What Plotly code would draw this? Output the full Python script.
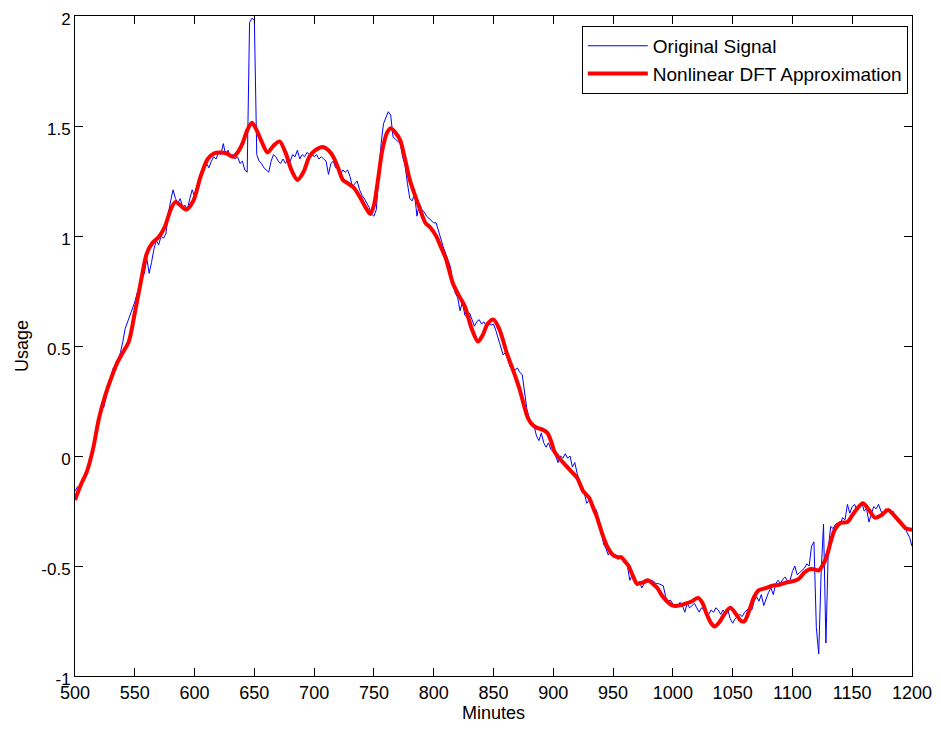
import plotly.graph_objects as go

# Original signal, sampled every 2 minutes from 500 to 1200
blue_minutes = list(range(500, 1201, 2))
blue_usage = [
    -0.16, -0.14, -0.15, -0.11, -0.09,
    -0.07, -0.02, 0.01, 0.06, 0.10,
    0.17, 0.23, 0.22, 0.27, 0.31,
    0.36, 0.40, 0.39, 0.44, 0.47,
    0.52, 0.58, 0.61, 0.64, 0.66,
    0.70, 0.74, 0.76, 0.81, 0.83,
    0.90, 0.83, 0.88, 0.94, 0.98,
    0.96, 1.00, 0.99, 1.01, 1.10,
    1.16, 1.21, 1.17, 1.15, 1.17,
    1.13, 1.14, 1.12, 1.17, 1.21,
    1.18, 1.21, 1.25, 1.27, 1.31,
    1.33, 1.31, 1.34, 1.36, 1.35,
    1.38, 1.37, 1.42, 1.37, 1.39,
    1.36, 1.37, 1.35, 1.36, 1.33,
    1.34, 1.30, 1.29, 1.97, 1.99,
    1.98, 1.37, 1.34, 1.33, 1.31,
    1.30, 1.29, 1.34, 1.37, 1.36,
    1.34, 1.33, 1.35, 1.33, 1.35,
    1.34, 1.37, 1.36, 1.39, 1.35,
    1.37, 1.36, 1.38, 1.37, 1.375,
    1.36, 1.37, 1.35, 1.36, 1.35,
    1.34, 1.28, 1.33, 1.34, 1.31,
    1.31, 1.28, 1.30, 1.29, 1.30,
    1.27, 1.225, 1.24, 1.25, 1.21,
    1.185, 1.17, 1.15, 1.13, 1.10,
    1.09, 1.12, 1.26, 1.42, 1.51,
    1.54, 1.565, 1.55, 1.45, 1.44,
    1.43, 1.42, 1.36, 1.32, 1.24,
    1.17, 1.16, 1.19, 1.09, 1.15,
    1.12, 1.11, 1.09, 1.08, 1.07,
    1.06, 1.06, 1.02, 0.99, 0.95,
    0.92, 0.89, 0.86, 0.79, 0.74,
    0.72, 0.66, 0.70, 0.64, 0.63,
    0.65, 0.62, 0.59, 0.61, 0.62,
    0.60, 0.61, 0.59, 0.60, 0.595,
    0.60, 0.57, 0.53, 0.50, 0.46,
    0.47, 0.44, 0.405, 0.40, 0.39,
    0.40, 0.38, 0.37, 0.30, 0.21,
    0.17, 0.14, 0.135, 0.09, 0.07,
    0.105, 0.06, 0.04, 0.06, 0.03,
    0.02, 0.00, -0.03, 0.00, -0.01,
    0.01, -0.01, 0.00, -0.05, -0.03,
    -0.08, -0.12, -0.15, -0.17, -0.215,
    -0.20, -0.22, -0.24, -0.245, -0.29,
    -0.33, -0.40, -0.42, -0.45, -0.43,
    -0.46, -0.45, -0.47, -0.46, -0.47,
    -0.49, -0.50, -0.565, -0.54, -0.56,
    -0.59, -0.57, -0.60, -0.58, -0.575,
    -0.57, -0.565, -0.57, -0.58, -0.58,
    -0.585, -0.59, -0.64, -0.66, -0.655,
    -0.67, -0.69, -0.685, -0.665, -0.68,
    -0.71, -0.67, -0.69, -0.68, -0.67,
    -0.69, -0.71, -0.69, -0.70, -0.725,
    -0.72, -0.70, -0.71, -0.69, -0.70,
    -0.72, -0.70, -0.715, -0.70, -0.74,
    -0.76, -0.74, -0.73, -0.72, -0.73,
    -0.71, -0.70, -0.69, -0.70, -0.66,
    -0.64, -0.66, -0.63, -0.68, -0.65,
    -0.62, -0.60, -0.63, -0.58, -0.565,
    -0.58, -0.56, -0.55, -0.57, -0.565,
    -0.525, -0.50, -0.54, -0.53, -0.52,
    -0.51, -0.49, -0.50, -0.41, -0.39,
    -0.78, -0.90, -0.53, -0.31, -0.85,
    -0.42, -0.32, -0.33, -0.31, -0.305,
    -0.31, -0.28, -0.29, -0.22, -0.26,
    -0.23, -0.22, -0.25, -0.23, -0.21,
    -0.25, -0.24, -0.30, -0.26, -0.23,
    -0.24, -0.22, -0.25, -0.27, -0.24,
    -0.25, -0.26, -0.25, -0.27, -0.30,
    -0.29, -0.305, -0.32, -0.35, -0.37,
    -0.41,
]

# Nonlinear DFT approximation (smooth curve)
red_minutes = [
    500, 505, 510, 515, 520, 525, 530, 535, 540, 545,
    550, 555, 560, 565, 570, 575, 580, 584, 588, 593,
    599, 605, 611, 616, 621, 627, 632, 636, 640, 644,
    648, 652, 656, 661, 666, 671, 676, 681, 686, 691,
    696, 701, 707, 712, 716, 720, 724, 728, 733, 738,
    743, 747, 750, 753, 757, 761, 764, 768, 772, 776,
    780, 784, 788, 793, 797, 802, 806, 810, 816, 821,
    826, 832, 837, 841, 845, 850, 855, 861, 865, 869,
    872, 876, 879, 883, 887, 891, 895, 898, 901, 905,
    910, 915, 920, 925, 930, 933, 936, 939, 942, 945,
    950, 954, 957, 960, 963, 967, 970, 975, 979, 983,
    987, 991, 995, 1000, 1005, 1011, 1016, 1021, 1025, 1028,
    1032, 1035, 1039, 1043, 1048, 1053, 1057, 1060, 1064, 1068,
    1072, 1078, 1083, 1089, 1095, 1100, 1105, 1110, 1114, 1118,
    1122, 1126, 1129, 1132, 1135, 1140, 1146, 1150, 1154, 1159,
    1164, 1169, 1174, 1180, 1185, 1190, 1195, 1200,
]
red_usage = [
    -0.20, -0.13, -0.07, 0.03, 0.17, 0.27, 0.35, 0.42, 0.47, 0.52,
    0.65, 0.79, 0.92, 0.97, 0.995, 1.04, 1.12, 1.155, 1.14, 1.12,
    1.16, 1.27, 1.35, 1.375, 1.38, 1.375, 1.36, 1.38, 1.42, 1.48,
    1.515, 1.48, 1.43, 1.38, 1.41, 1.43, 1.38, 1.30, 1.255, 1.29,
    1.36, 1.39, 1.405, 1.39, 1.36, 1.31, 1.255, 1.24, 1.22, 1.18,
    1.13, 1.10, 1.14, 1.24, 1.39, 1.47, 1.49, 1.47, 1.435, 1.35,
    1.255, 1.19, 1.13, 1.06, 1.04, 1.0, 0.95, 0.90, 0.785, 0.73,
    0.68, 0.575, 0.52, 0.55, 0.60, 0.62, 0.575, 0.47, 0.41, 0.35,
    0.30, 0.22, 0.17, 0.14, 0.127, 0.12, 0.105, 0.07, 0.02, -0.01,
    -0.04, -0.07, -0.10, -0.16, -0.19, -0.23, -0.27, -0.32, -0.37, -0.41,
    -0.45, -0.46, -0.46, -0.48, -0.50, -0.55, -0.58, -0.575, -0.565, -0.58,
    -0.60, -0.635, -0.66, -0.68, -0.68, -0.67, -0.66, -0.645, -0.67, -0.715,
    -0.76, -0.775, -0.755, -0.72, -0.69, -0.72, -0.75, -0.75, -0.70, -0.64,
    -0.61, -0.60, -0.59, -0.585, -0.575, -0.57, -0.56, -0.53, -0.515, -0.515,
    -0.52, -0.49, -0.45, -0.39, -0.34, -0.305, -0.30, -0.27, -0.24, -0.215,
    -0.245, -0.28, -0.27, -0.245, -0.27, -0.30, -0.33, -0.335,
]

x_ticks = [500, 550, 600, 650, 700, 750, 800, 850, 900, 950,
           1000, 1050, 1100, 1150, 1200]
y_ticks = [-1, -0.5, 0, 0.5, 1, 1.5, 2]
y_ticktext = ['-1', '-0.5', '0', '0.5', '1', '1.5', '2']

font = dict(family='Liberation Sans, Arial, sans-serif', size=18, color='black')

fig = go.Figure()

fig.add_trace(go.Scatter(
    x=blue_minutes, y=blue_usage,
    mode='lines',
    name='Original Signal',
    line=dict(color='#0000ff', width=1),
))

fig.add_trace(go.Scatter(
    x=red_minutes, y=red_usage,
    mode='lines',
    name='Nonlinear DFT Approximation',
    line=dict(color='#ff0000', width=4, shape='spline', smoothing=0.8),
))

axis_style = dict(
    showline=True, linecolor='black', linewidth=1, mirror='ticks',
    ticks='inside', ticklen=8, tickcolor='black', tickwidth=1,
    showgrid=False, zeroline=False, automargin=False,
    ticklabeloverflow='allow',
)

fig.update_xaxes(
    range=[500, 1200], tickvals=x_ticks,
    tickfont=font,
    title=dict(text='Minutes', font=font, standoff=4),
    **axis_style,
)
# labels nudged down a little so the top "2" stays inside the page
fig.update_yaxes(
    range=[-1, 2], tickvals=y_ticks, ticktext=y_ticktext,
    tickfont=dict(font, size=17), ticklabelshift=3,
    title=dict(text='Usage', font=font, standoff=8),
    **axis_style,
)

# page body adds an 8px offset, so the figure is a little smaller than the window
fig.update_layout(
    width=933, height=721,
    margin=dict(l=67, r=29, t=8, b=53),
    paper_bgcolor='white', plot_bgcolor='white',
    font=font,
    showlegend=True,
    legend=dict(
        x=0.995, y=0.985, xanchor='right', yanchor='top',
        bgcolor='white', bordercolor='black', borderwidth=1,
        font=dict(family='Liberation Sans, Arial, sans-serif', size=19, color='black'),
        itemwidth=60,
        tracegroupgap=0,
    ),
)

fig.write_html('out.html')
